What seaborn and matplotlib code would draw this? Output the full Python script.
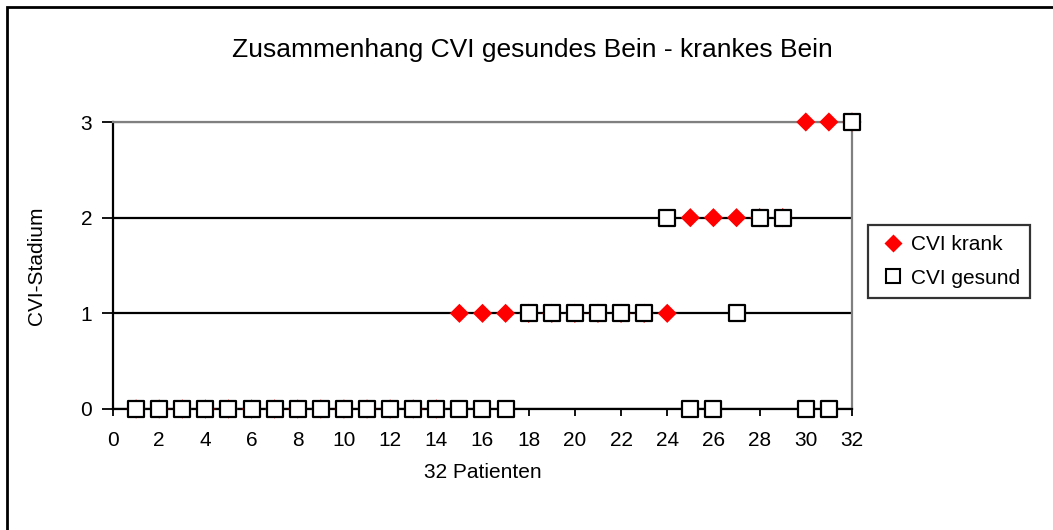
import numpy as np
import pandas as pd
import matplotlib
matplotlib.use("Agg")
import matplotlib.pyplot as plt
from matplotlib.lines import Line2D
from matplotlib.patches import Rectangle
import seaborn as sns

# Daten: CVI-Stadium je Patient (1..32)
patienten = list(range(1, 33))
cvi_krank = [0] * 14 + [1, 1, 1] + [1] * 6 + [1] + [2, 2, 2] + [2, 2] + [3, 3] + [3]
cvi_gesund = [0] * 17 + [1] * 6 + [2] + [0, 0] + [1] + [2, 2] + [0, 0] + [3]

df = pd.DataFrame({"Patient": patienten, "krank": cvi_krank, "gesund": cvi_gesund})

sns.set_theme(style="white")
plt.rcParams["font.family"] = ["Liberation Sans", "DejaVu Sans"]
plt.rcParams["text.color"] = "black"
plt.rcParams["axes.labelcolor"] = "black"
plt.rcParams["xtick.color"] = "black"
plt.rcParams["ytick.color"] = "black"

fig = plt.figure(figsize=(10.53, 5.30), dpi=100)
ax = fig.add_axes([113 / 1053, 1 - 409 / 530, (852 - 113) / 1053, (409 - 122) / 530])

# horizontale Gitterlinien
for yv in [0, 1, 2]:
    ax.axhline(yv, color="black", lw=1.6, zorder=1)
ax.axhline(3, color="#808080", lw=1.6, zorder=1)

sns.scatterplot(data=df, x="Patient", y="krank", marker="D", s=95, color="red",
                edgecolor="none", ax=ax, zorder=3, legend=False)
sns.scatterplot(data=df, x="Patient", y="gesund", marker="s", s=140, color="white",
                edgecolor="black", linewidth=1.6, ax=ax, zorder=4, legend=False)

ax.set_xlim(0, 32)
ax.set_ylim(0, 3)
ax.set_xticks(np.arange(0, 33, 2))
ax.set_yticks([0, 1, 2, 3])
for sp in ["left", "bottom"]:
    ax.spines[sp].set_color("black")
    ax.spines[sp].set_linewidth(1.6)
for sp in ["right", "top"]:
    ax.spines[sp].set_color("#808080")
    ax.spines[sp].set_linewidth(1.6)
for c in ax.collections:
    c.set_clip_on(False)

ax.tick_params(axis="x", direction="out", length=5, width=1.3,
               labelsize=15, pad=11, bottom=True)
ax.tick_params(axis="y", direction="out", length=8, width=1.3,
               labelsize=15, pad=7, left=True)
ax.set_xlabel("32 Patienten", fontsize=15, labelpad=9)
ax.set_ylabel("CVI-Stadium", fontsize=15, labelpad=25)

fig.text(532 / 1053, 1 - 50 / 530, "Zusammenhang CVI gesundes Bein - krankes Bein",
         ha="center", va="center", fontsize=19)

handles = [
    Line2D([], [], marker="D", color="none", markerfacecolor="red", markeredgecolor="none",
           markersize=9, label="CVI krank"),
    Line2D([], [], marker="s", color="none", markerfacecolor="white", markeredgecolor="black",
           markeredgewidth=1.5, markersize=9.5, label="CVI gesund"),
]
leg = fig.legend(handles=handles, loc="upper left", bbox_to_anchor=(868 / 1053, 1 - 225 / 530),
                 fontsize=15, frameon=True, fancybox=False, handlelength=1.4,
                 handletextpad=0.15, borderpad=0.5, labelspacing=0.68, borderaxespad=0)
leg.get_frame().set_edgecolor("black")
leg.get_frame().set_linewidth(1.6)

# Rahmen um das Diagramm (rechts/unten abgeschnitten)
fig.patches.append(Rectangle((7 / 1053, -0.1), 1.2, 1 - 7 / 530 + 0.1, transform=fig.transFigure,
                             fill=False, edgecolor="black", lw=2))

fig.savefig("out.png", dpi=100)
